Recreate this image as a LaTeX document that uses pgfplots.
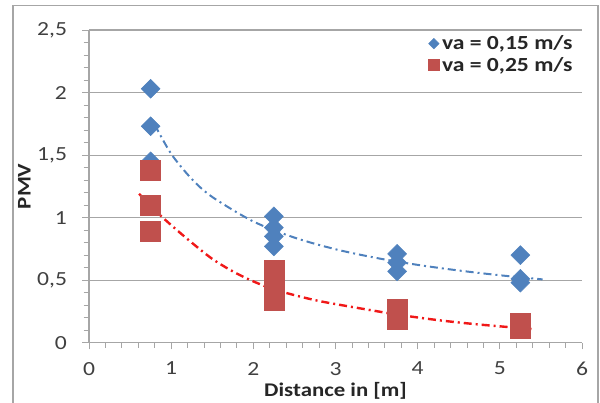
\documentclass[border=0pt]{standalone}
\usepackage{fontspec}
\setmainfont{Carlito}[FakeStretch=1.18]
\usepackage{pgfplots}
\pgfplotsset{compat=1.18}
\definecolor{blueA}{HTML}{4F81BD}
\definecolor{redA}{HTML}{C0504D}
\definecolor{trendR}{HTML}{F01818}
\definecolor{gridgray}{HTML}{A6A6A6}
\definecolor{txt}{HTML}{404040}
\begin{document}
\begin{tikzpicture}[x=1pt,y=1pt]
\path[use as bounding box] (-66.75,-45.2) rectangle (383.25,257);
\draw[gridgray, line width=1pt] (-57,-70) rectangle (381.75,252.75);
\begin{axis}[
  at={(0,0)}, anchor=south west,
  scale only axis, width=369.75pt, height=234.5pt,
  xmin=0, xmax=6, ymin=0, ymax=2.5,
  axis x line*=bottom, axis y line*=left,
  axis line style={gridgray, line width=0.8pt},
  xtick={0,1,2,3,4,5,6}, ytick={0,0.5,1,1.5,2,2.5},
  minor x tick num=4, minor y tick num=4,
  ymajorgrids, grid style={gridgray, line width=0.8pt},
  tick align=outside, major tick length=5pt, minor tick length=4pt,
  tick style={gridgray, line width=0.6pt},
  /pgf/number format/assume math mode=true,
  /pgf/number format/use comma,
  ticklabel style={font=\fontsize{15}{17}\selectfont, text=txt},
  yticklabel style={xshift=-8pt},
  xticklabel style={yshift=-6pt},
  xlabel={Distance in [m]}, ylabel={PMV},
  label style={font=\fontsize{14.5}{16}\selectfont\bfseries, text=black!85},
  xlabel style={yshift=2pt},
  ylabel style={yshift=-2pt},
  legend style={draw=none, fill=none, at={(rel axis cs:1,1)}, anchor=north east,
    xshift=-4pt, yshift=-1pt, font=\fontsize{15}{17}\selectfont\bfseries, text=black!85,
    row sep=0pt, inner sep=1pt},
  legend cell align=left,
  legend image code/.code={\draw[#1, every mark/.append style={scale=0.55}] plot coordinates {(0.12cm,0cm)};},
]
\addplot[only marks, mark=square*, mark size=5pt, color=blueA,
  every mark/.append style={rotate=45}] coordinates {
  (0.75,2.03) (0.75,1.73) (0.75,1.45)
  (2.25,1.01) (2.25,0.92) (2.25,0.85) (2.25,0.77)
  (3.75,0.71) (3.75,0.64) (3.75,0.57)
  (5.25,0.70) (5.25,0.51) (5.25,0.48)
};
\addlegendentry{va = 0,15 m/s}
\addplot[only marks, mark=square*, mark size=7.5pt, color=redA] coordinates {
  (0.75,1.38) (0.75,1.10) (0.75,0.89)
  (2.25,0.58) (2.25,0.50) (2.25,0.42) (2.25,0.34)
  (3.75,0.27) (3.75,0.19)
  (5.25,0.155) (5.25,0.115)
};
\addlegendentry{va = 0,25 m/s}
\addplot[smooth, blueA, line width=1.5pt, dash pattern=on 6pt off 3pt on 1.5pt off 3pt, forget plot] coordinates {
  (0.80,1.742) (1.00,1.510) (1.25,1.309) (1.50,1.165) (2.00,0.969) (2.50,0.840)
  (3.00,0.747) (3.50,0.677) (4.00,0.622) (4.50,0.577) (5.00,0.539) (5.52,0.506)
};
\addplot[smooth, trendR, line width=1.8pt, dash pattern=on 6pt off 3pt on 1.5pt off 3pt, forget plot] coordinates {
  (0.61,1.19) (0.80,1.06) (1.00,0.94) (1.25,0.80) (1.50,0.67) (1.75,0.57)
  (2.00,0.49) (2.28,0.42) (2.75,0.34) (3.25,0.28) (3.75,0.225) (4.25,0.18)
  (4.75,0.145) (5.43,0.107)
};
\end{axis}
\end{tikzpicture}
\end{document}
